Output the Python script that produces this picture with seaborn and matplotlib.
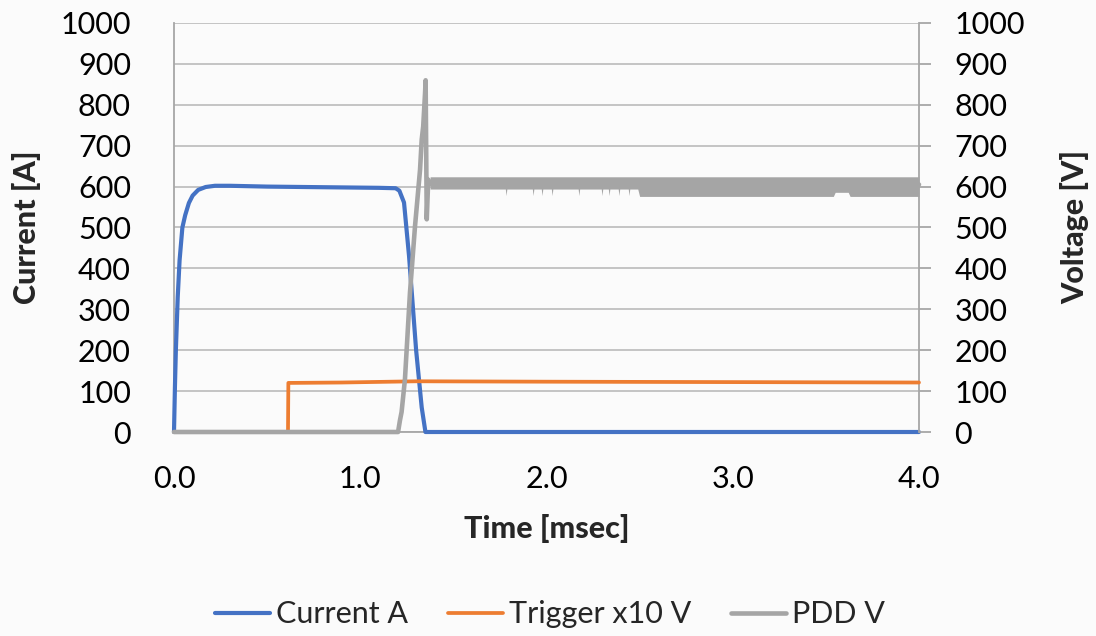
import matplotlib
matplotlib.use('Agg')
import matplotlib.pyplot as plt
import seaborn as sns

# Current A (primary axis)
current_t = [0.0, 0.005, 0.01, 0.02, 0.03, 0.045, 0.06, 0.08, 0.10, 0.13, 0.17,
             0.22, 0.30, 0.50, 0.70, 0.90, 1.10, 1.19, 1.21, 1.235, 1.262,
             1.30, 1.33, 1.35, 4.0]
current_a = [0, 110, 200, 330, 420, 500, 530, 560, 578, 592, 599,
             602, 602, 600, 599, 598, 597, 596, 590, 561, 430,
             200, 60, 0, 0]

# Trigger x10 V (secondary axis)
trigger_t = [0.0, 0.612, 0.614, 0.90, 1.30, 2.00, 3.00, 4.0]
trigger_v = [0, 0, 120, 121, 124, 123, 122, 121]

# PDD V (secondary axis)
pdd_t = [0.0, 1.203, 1.213, 1.222, 1.240, 1.267, 1.294, 1.321, 1.330,
         1.338, 1.348, 1.351, 1.357, 1.365, 1.375, 4.0]
pdd_v = [0, 0, 28, 49, 129, 341, 503, 641, 715,
         747, 829, 860, 520, 617, 607, 605]

# noise band of PDD after switching
band_t = [1.375, 2.49, 2.50, 3.54, 3.55, 3.62, 3.63, 4.0]
band_low = [594, 594, 576, 576, 586, 586, 576, 576]
band_high = [624, 624, 624, 624, 624, 624, 624, 624]
dip_t = [1.783, 1.928, 1.976, 2.030, 2.174, 2.298, 2.336, 2.389, 2.443]
dip_v = 578

ticks_y = [0, 100, 200, 300, 400, 500, 600, 700, 800, 900, 1000]
ticks_x = [0.0, 1.0, 2.0, 3.0, 4.0]

blue = '#4472C4'
orange = '#ED7D31'
gray = '#A5A5A5'
axis_gray = '#A6A6A6'
grid_gray = '#C0C0C0'
bg = '#FBFBFB'

sns.set_style('white')
plt.rcParams['font.family'] = ['Lato', 'DejaVu Sans']

fig = plt.figure(figsize=(10.96, 6.36), dpi=100, facecolor=bg)
ax = fig.add_axes([174 / 1096, 1 - 432 / 636, 745 / 1096, 409 / 636])
ax.set_facecolor(bg)
ax2 = ax.twinx()

# build the band outline with the dips
pts = sorted(list(zip(band_t, band_low, band_high)) +
             [(t + d, v, 624) for t in dip_t for d, v in
              [(-0.004, 594), (0.0, dip_v), (0.004, 594)]])
b_t = [p[0] for p in pts]
b_lo = [p[1] for p in pts]
b_hi = [p[2] for p in pts]

sns.lineplot(x=current_t, y=current_a, ax=ax, color=blue, linewidth=3.0,
             label='Current A', estimator=None, sort=False, clip_on=False,
             zorder=3)
sns.lineplot(x=trigger_t, y=trigger_v, ax=ax2, color=orange, linewidth=2.7,
             label='Trigger x10 V', estimator=None, sort=False, clip_on=False,
             zorder=3)
sns.lineplot(x=pdd_t, y=pdd_v, ax=ax2, color=gray, linewidth=3.3,
             label='PDD V', estimator=None, sort=False, clip_on=False,
             zorder=3)
ax2.fill_between(b_t, b_lo, b_hi, color=gray, linewidth=0, zorder=3)

for a in (ax, ax2):
    a.set_xlim(0, 4.0)
    a.set_ylim(0, 1000)
    a.set_yticks(ticks_y)
    for s in a.spines.values():
        s.set_visible(False)
    if a.get_legend() is not None:
        a.get_legend().remove()

ax.set_xticks(ticks_x)
ax.set_xticklabels([f'{v:.1f}' for v in ticks_x])
ax.yaxis.grid(True, color=grid_gray, linewidth=1.3)
ax.set_axisbelow(True)
ax.spines['left'].set_visible(True)
ax.spines['left'].set_color(axis_gray)
ax.spines['left'].set_linewidth(1.3)
ax.spines['bottom'].set_visible(True)
ax.spines['bottom'].set_color(axis_gray)
ax.spines['bottom'].set_linewidth(1.3)
ax2.spines['right'].set_visible(True)
ax2.spines['right'].set_color(axis_gray)
ax2.spines['right'].set_linewidth(1.3)

ax.tick_params(axis='y', length=0, pad=31, labelsize=22, labelcolor='black')
ax.tick_params(axis='x', length=0, pad=24, labelsize=22, labelcolor='black')
ax2.tick_params(axis='y', length=8.6, width=1.3, color=axis_gray, pad=17,
                labelsize=22, labelcolor='black')

ax.set_xlabel('Time [msec]', fontsize=22, fontweight='black')
ax.set_ylabel('Current [A]', fontsize=22, fontweight='black')
ax2.set_ylabel('Voltage [V]', fontsize=22, fontweight='black')
ax.xaxis.set_label_coords(0.5, -0.20)
ax.yaxis.set_label_coords(-0.178, 0.5)
ax2.yaxis.set_label_coords(1.19, 0.5)

h1, l1 = ax.get_legend_handles_labels()
h2, l2 = ax2.get_legend_handles_labels()
fig.legend(h1 + h2, l1 + l2, loc='center', bbox_to_anchor=(0.502, 0.034),
           ncol=3, frameon=False, fontsize=22, handlelength=1.8,
           handletextpad=0.2, columnspacing=1.3)

fig.savefig('out.png', dpi=100, facecolor=bg)
